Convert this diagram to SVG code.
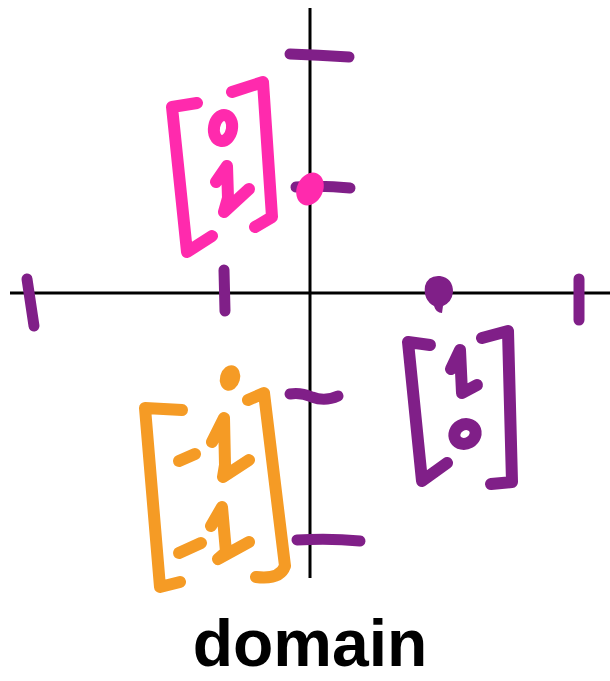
<svg xmlns="http://www.w3.org/2000/svg" width="610" height="681" viewBox="0 0 610 681">
  <style>
    .axis { stroke: #000; stroke-width: 3; fill: none; }
    .ink { fill: none; stroke-width: 12; stroke-linecap: round; stroke-linejoin: round; }
    .tick { stroke-width: 11; }
    .purple { stroke: #801f88; }
    .pink { stroke: #ff2aad; }
    .orange { stroke: #f59b25; }
    .label { font-family: "Liberation Sans", Arial, sans-serif; font-weight: bold; font-size: 66px; fill: #000; }
  </style>
  <rect width="610" height="681" fill="#fff"/>

  <!-- coordinate axes -->
  <g id="axes">
    <line class="axis" x1="10" y1="293" x2="610" y2="293"/>
    <line class="axis" x1="310" y1="8" x2="310" y2="578"/>
  </g>

  <!-- tick marks -->
  <g id="ticks">
    <path class="ink tick purple" d="M27,279 L34,326"/>
    <path class="ink tick purple" d="M224,270 L225,311"/>
    <path class="ink tick purple" d="M579,279 L579,320"/>
    <path class="ink tick purple" d="M290,54 Q318,55 349,57"/>
    <path class="ink tick purple" d="M296,187 Q322,185 350,188"/>
    <path class="ink tick purple" d="M290,394 Q300,392 312,397 Q325,402 338,396"/>
    <path class="ink tick purple" d="M297,540 Q330,538 360,541"/>
  </g>

  <!-- e1 = [1, 0] -->
  <g id="vector-e1">
    <path d="M425,286 Q428,275 440,276 Q453,278 453,292 Q452,302 443,306 L442,313 Q436,313 434,306 Q423,300 425,286 Z" fill="#801f88"/>
    <path class="ink purple" d="M430,345 L408,342 L422,481 L447,463"/>
    <path class="ink purple" d="M482,338 L508,331 L512,482 L491,484"/>
    <path class="ink purple" d="M451,369 L460,350 L462,393 L477,385"/>
    <ellipse class="ink purple" cx="465" cy="434" rx="11" ry="9.5" transform="rotate(-30 465 434)"/>
  </g>

  <!-- e2 = [0, 1] -->
  <g id="vector-e2">
    <ellipse cx="310" cy="189" rx="13" ry="17" transform="rotate(25 310 189)" fill="#ff2aad"/>
    <path class="ink pink" d="M197,103 L172,107 L187,252 L212,236"/>
    <path class="ink pink" d="M232,92 L263,82 L272,217 L255,227"/>
    <ellipse class="ink pink" cx="223" cy="128" rx="9" ry="13" transform="rotate(10 223 128)"/>
    <path class="ink pink" d="M216,182 L227,166 L228,198 L224,212 L249,189"/>
  </g>

  <!-- -e1 - e2 = [-1, -1] -->
  <g id="vector-neg">
    <ellipse cx="230" cy="378" rx="10" ry="13" transform="rotate(15 230 378)" fill="#f59b25"/>
    <path class="ink orange" d="M182,410 L145,408 L160,587 L180,582"/>
    <path class="ink orange" d="M248,400 L264,393 L285,566 Q280,580 256,577"/>
    <path class="ink orange" d="M179,461 L195,454"/>
    <path class="ink orange" d="M212,442 L224,418 L225,465 L223,477 L249,460"/>
    <path class="ink orange" d="M179,553 L201,543"/>
    <path class="ink orange" d="M211,526 L222,507 L226,552 L218,559 L249,542"/>
  </g>

  <text class="label" x="310" y="666" text-anchor="middle">domain</text>
</svg>
